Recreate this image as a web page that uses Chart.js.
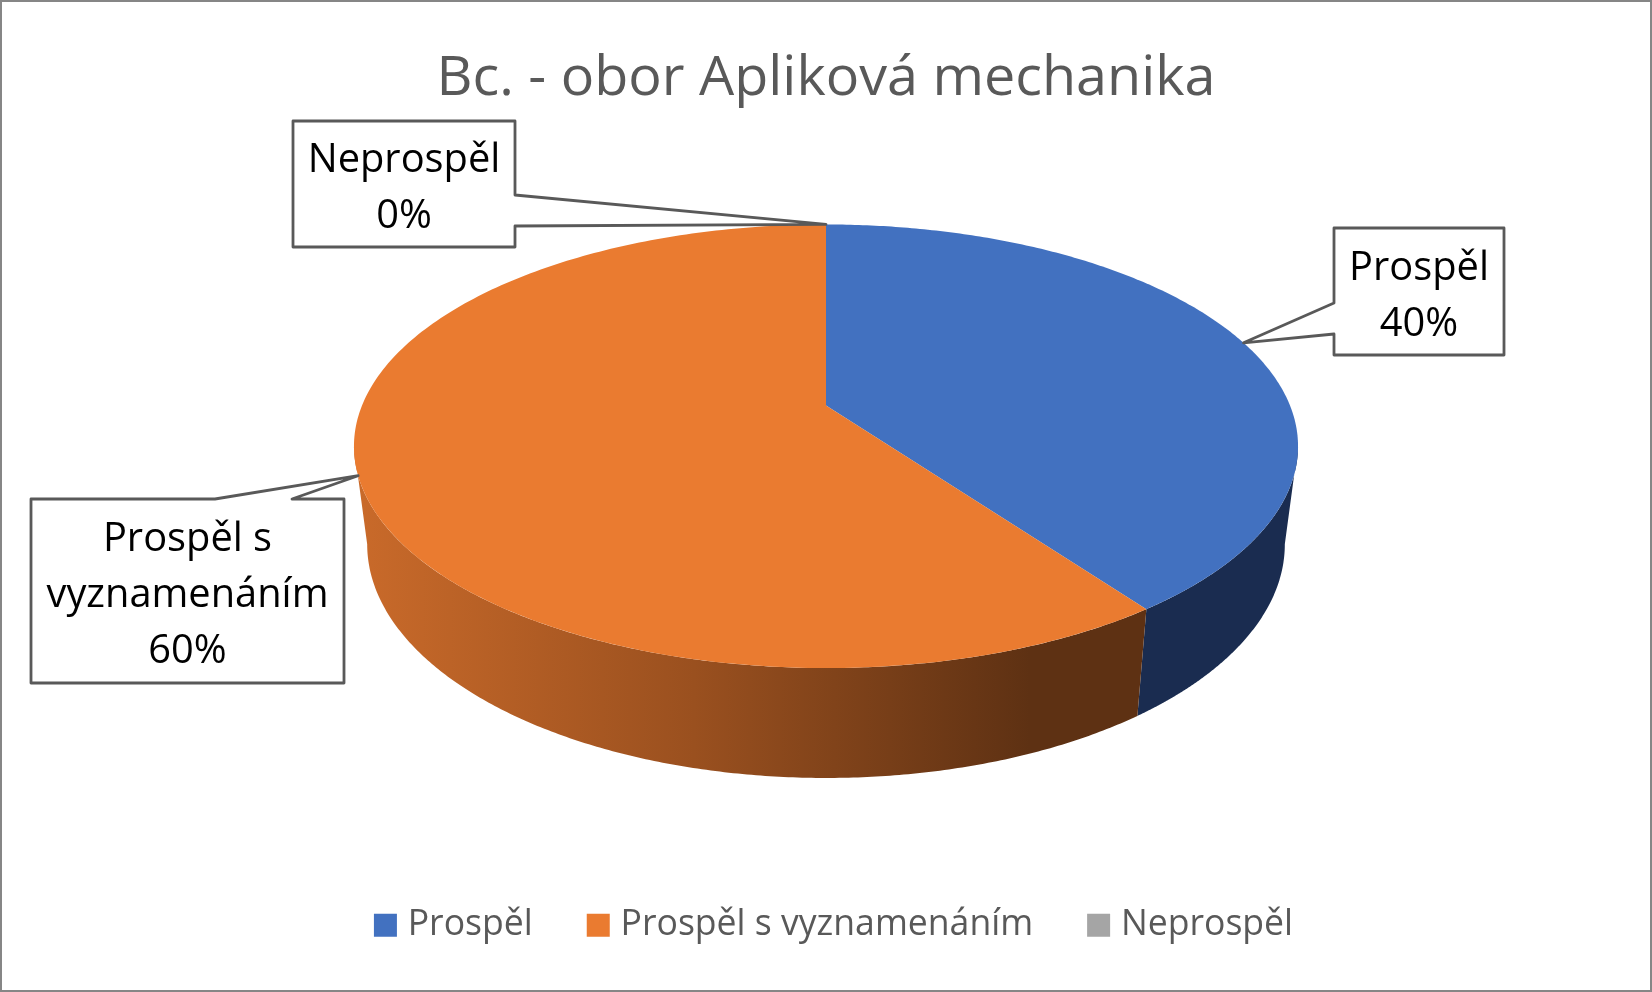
<!DOCTYPE html>
<html lang="cs">
<head>
<meta charset="utf-8">
<title>Bc. - obor Apliková mechanika</title>
<style>
  html, body { margin: 0; padding: 0; background: #fff; }
  canvas { display: block; }
</style>
</head>
<body>
<canvas id="myChart" width="1652" height="992"></canvas>
<script src="https://cdn.jsdelivr.net/npm/chart.js@4"></script>
<script>
const chartTitle = 'Bc. - obor Apliková mechanika'
const categories = ['Prospěl', 'Prospěl s vyznamenáním', 'Neprospěl']
const values = [40, 60, 0]
const sliceColors = ['#4271C0', '#EA7B30', '#A5A5A5']
const calloutLines = [['Prospěl'], ['Prospěl s', 'vyznamenáním'], ['Neprospěl']]

const fontName = '"Open Sans", "Noto Sans", sans-serif'
const grey = '#595959'

// perspective of the pie: k shrinks the back, y0/a/b place each rim on the page
const topRim = { y0: 405.5, a: 214.3, b: 464, k: 0.1838 }
const bottomRim = { y0: 501.3, a: 225.8, b: 451, k: 0.1838 }

// callout boxes: w1/w2 is where the pointer leaves the box edge
const calloutBoxes = [
    { left: 1334, top: 228, right: 1504, bottom: 355, side: 'left', w1: 303, w2: 334, first: 280 },
    { left: 31, top: 499, right: 344, bottom: 683, side: 'top', w1: 215, w2: 292, first: 551 },
    { left: 293, top: 121, right: 515, bottom: 247, side: 'right', w1: 195, w2: 226, first: 172 },
]

function project(cx, rim, angle) {
    // chart.js angles start at -PI/2, i.e. at the top of the pie
    const u = Math.cos(angle)
    const v = -Math.sin(angle)
    const w = 1 + rim.k * v
    return { x: cx + rim.b * u / w, y: rim.y0 - rim.a * v / w }
}

function rimPath(ctx, cx, rim, start, end, reverse) {
    const steps = 240
    for (let i = 0; i <= steps; i++) {
        const t = reverse ? 1 - i / steps : i / steps
        const p = project(cx, rim, start + (end - start) * t)
        ctx.lineTo(p.x, p.y)
    }
}

const pie3d = {
    id: 'pie3d',
    afterLayout(chart) {
        // legend row sits a little right of the page centre
        chart.legend.left += 11
        chart.legend.right += 11
    },
    beforeDraw(chart) {
        const ctx = chart.ctx
        ctx.save()
        ctx.fillStyle = '#fff'
        ctx.fillRect(0, 0, chart.width, chart.height)
        ctx.strokeStyle = '#868686'
        ctx.lineWidth = 2
        ctx.strokeRect(1, 1, chart.width - 2, chart.height - 2)
        ctx.restore()
    },
    beforeDatasetsDraw(chart) {
        const ctx = chart.ctx
        const arcs = chart.getDatasetMeta(0).data

        const orangeWall = ctx.createLinearGradient(358, 0, 1030, 0)
        orangeWall.addColorStop(0, '#C96A2A')
        orangeWall.addColorStop(0.5, '#9A501F')
        orangeWall.addColorStop(1, '#5E3113')
        const wallFills = ['#1A2C50', orangeWall, '#636363']

        // only the front of the wall shows, between the two silhouette angles
        const wallStart = Math.asin(topRim.k)
        const wallEnd = Math.PI - wallStart

        ctx.save()
        arcs.forEach((arc, i) => {
            const start = Math.max(arc.startAngle, wallStart)
            const end = Math.min(arc.endAngle, wallEnd)
            if (end <= start) return
            ctx.beginPath()
            rimPath(ctx, arc.x, topRim, start, end, false)
            rimPath(ctx, arc.x, bottomRim, start, end, true)
            ctx.closePath()
            ctx.fillStyle = wallFills[i]
            ctx.fill()
        })
        arcs.forEach((arc) => {
            if (arc.endAngle - arc.startAngle <= 0) return
            ctx.beginPath()
            ctx.moveTo(arc.x, topRim.y0)
            rimPath(ctx, arc.x, topRim, arc.startAngle, arc.endAngle, false)
            ctx.closePath()
            ctx.fillStyle = arc.options.backgroundColor
            ctx.fill()
        })
        ctx.restore()
        return false
    },
    afterDraw(chart) {
        const ctx = chart.ctx
        const arcs = chart.getDatasetMeta(0).data
        const total = values.reduce((a, b) => a + b, 0)

        ctx.save()
        arcs.forEach((arc, i) => {
            const box = calloutBoxes[i]
            const tip = project(arc.x, topRim, (arc.startAngle + arc.endAngle) / 2)

            ctx.beginPath()
            ctx.moveTo(box.left, box.top)
            if (box.side === 'top') {
                ctx.lineTo(box.w1, box.top)
                ctx.lineTo(tip.x, tip.y)
                ctx.lineTo(box.w2, box.top)
            }
            ctx.lineTo(box.right, box.top)
            if (box.side === 'right') {
                ctx.lineTo(box.right, box.w1)
                ctx.lineTo(tip.x, tip.y)
                ctx.lineTo(box.right, box.w2)
            }
            ctx.lineTo(box.right, box.bottom)
            ctx.lineTo(box.left, box.bottom)
            if (box.side === 'left') {
                ctx.lineTo(box.left, box.w2)
                ctx.lineTo(tip.x, tip.y)
                ctx.lineTo(box.left, box.w1)
            }
            ctx.closePath()
            ctx.fillStyle = '#fff'
            ctx.fill()
            ctx.strokeStyle = grey
            ctx.lineWidth = 2.8
            ctx.lineJoin = 'round'
            ctx.stroke()

            const lines = calloutLines[i].concat(Math.round(values[i] / total * 100) + '%')
            ctx.fillStyle = '#000'
            ctx.font = '39.8px ' + fontName
            ctx.textAlign = 'center'
            ctx.textBaseline = 'alphabetic'
            lines.forEach((line, n) => {
                ctx.fillText(line, (box.left + box.right) / 2, box.first + n * 56)
            })
        })
        ctx.restore()
    },
}

const myChart = new Chart(document.getElementById('myChart'), {
    type: 'pie',
    data: {
        labels: categories,
        datasets: [{
            data: values,
            backgroundColor: sliceColors,
            // slices are painted by pie3d, the border only fattens the legend squares
            borderColor: sliceColors,
            borderWidth: 14,
        }],
    },
    plugins: [pie3d],
    options: {
        responsive: false,
        animation: false,
        layout: { padding: { top: 46, bottom: 39 } },
        plugins: {
            title: {
                display: true,
                text: chartTitle,
                color: grey,
                font: { family: fontName, size: 55.7, weight: 'normal' },
                padding: { top: 0, bottom: 10 },
            },
            legend: {
                position: 'bottom',
                labels: {
                    color: grey,
                    font: { family: fontName, size: 35.6 },
                    boxWidth: 9,
                    boxHeight: 9,
                    padding: 61,
                },
            },
            tooltip: { enabled: false },
        },
    },
})
</script>
</body>
</html>
